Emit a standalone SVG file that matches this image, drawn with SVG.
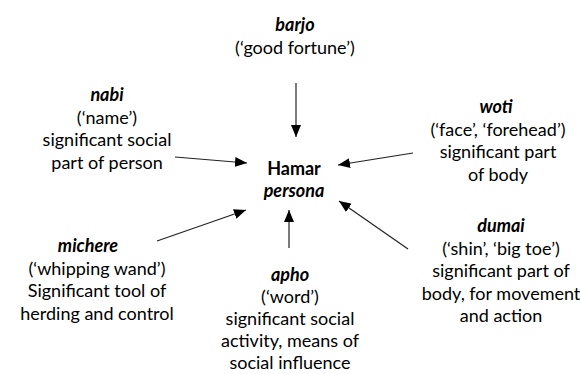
<svg xmlns="http://www.w3.org/2000/svg" width="580" height="374" viewBox="0 0 580 374">
<defs>
<style>
text{font-family:Lato,"Open Sans","Liberation Sans",sans-serif;font-size:18px;fill:#000;text-anchor:middle}
.t{font-weight:bold;font-style:italic}
.b{font-weight:bold}
.c{stroke:#222;stroke-width:1.2;fill:none;marker-end:url(#ah)}
</style>
<marker id="ah" markerUnits="userSpaceOnUse" markerWidth="12" markerHeight="10" viewBox="0 0 12 10" refX="12" refY="5" orient="auto">
<path d="M0,0 L12,5 L0,10 Z" fill="#000"/>
</marker>
</defs>
<rect width="580" height="374" fill="#fff"/>
<g id="connectors">
<line class="c" x1="296" y1="83" x2="296" y2="137"/>
<line class="c" x1="175" y1="157" x2="247" y2="163"/>
<line class="c" x1="413" y1="153" x2="338" y2="165"/>
<line class="c" x1="157" y1="241" x2="246" y2="210"/>
<line class="c" x1="289" y1="248" x2="289" y2="210"/>
<line class="c" x1="408" y1="249" x2="339" y2="201"/>
</g>
<g id="center">
<text class="b" x="294" y="175">Hamar</text>
<text class="t" x="294" y="197">persona</text>
</g>
<g id="barjo">
<text class="t" x="295" y="31">barjo</text>
<text x="295" y="53.5">(‘good fortune’)</text>
</g>
<g id="nabi">
<text class="t" x="107" y="101">nabi</text>
<text x="107" y="123.5">(‘name’)</text>
<text x="107" y="146">significant social</text>
<text x="107" y="168.5">part of person</text>
</g>
<g id="woti">
<text class="t" x="496" y="113">woti</text>
<text x="498" y="135.5">(‘face’, ‘forehead’)</text>
<text x="498" y="158">significant part</text>
<text x="498" y="180.5">of body</text>
</g>
<g id="michere">
<text class="t" x="88" y="252">michere</text>
<text x="97" y="274.5">(‘whipping wand’)</text>
<text x="97" y="297">Significant tool of</text>
<text x="97" y="319.5">herding and control</text>
</g>
<g id="apho">
<text class="t" x="290" y="281">apho</text>
<text x="290" y="303">(‘word’)</text>
<text x="290" y="325">significant social</text>
<text x="290" y="347">activity, means of</text>
<text x="290" y="369">social influence</text>
</g>
<g id="dumai">
<text class="t" x="501" y="232">dumai</text>
<text x="501" y="254.5">(‘shin’, ‘big toe’)</text>
<text x="501" y="277">significant part of</text>
<text x="501" y="299.5">body, for movement</text>
<text x="501" y="322">and action</text>
</g>
</svg>
